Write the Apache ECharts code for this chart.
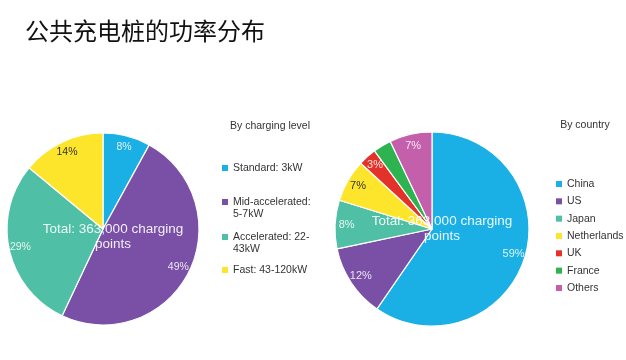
<!DOCTYPE html>
<html><head><meta charset="utf-8">
<script src="https://cdn.jsdelivr.net/npm/echarts@6/dist/echarts.min.js"></script>
<style>html,body{margin:0;padding:0;background:#fff}#c{width:626px;height:360px}</style>
</head><body><div id="c"></div>
<script>
// ---- data ----
const titleText = '公共充电桩的功率分布';
const totalText = 'Total: 363,000 charging\npoints';
const levelHeader = 'By charging level';
const countryHeader = 'By country';
const levelNames = ['Standard: 3kW', 'Mid-accelerated: 5-7kW', 'Accelerated: 22-43kW', 'Fast: 43-120kW'];
const levelValues = [8, 49, 29, 14];
const countryNames = ['China', 'US', 'Japan', 'Netherlands', 'UK', 'France', 'Others'];
const countryValues = [59, 12, 8, 7, 3, 3, 7];

// ---- styles ----
const FONT = '"Liberation Sans", Arial, sans-serif';
const LIGHT = 'rgba(255,255,255,0.85)';
const DARK = '#333';
const levelColors = ['#1aafe5', '#7a4fa6', '#4fbfa6', '#fde52c'];
const levelLabelColors = [LIGHT, LIGHT, LIGHT, DARK];
const countryColors = ['#1aafe5', '#7a4fa6', '#4fbfa6', '#fde52c', '#e4322b', '#2db34f', '#c35fab'];
const countryLabelColors = [LIGHT, LIGHT, LIGHT, DARK, LIGHT, LIGHT, LIGHT];
const levelLegendMarkerY = [168, 202, 237, 270];
const levelWrap = {
  'Mid-accelerated: 5-7kW': '\nMid-accelerated:\n5-7kW',
  'Accelerated: 22-43kW': '\nAccelerated: 22-\n43kW'
};

function pies(names, values, colors, labelColors, center, r, labelSize) {
  const main = {
    type: 'pie', center: center, radius: r, startAngle: 90, clockwise: true, silent: true,
    itemStyle: { borderColor: '#fff', borderWidth: 1.2 },
    label: { show: false }, labelLine: { show: false }, emphasis: { disabled: true },
    data: names.map((n, i) => ({ name: n, value: values[i], itemStyle: { color: colors[i] } }))
  };
  const overlay = {
    type: 'pie', center: center, radius: [r * 0.7, r], startAngle: 90, clockwise: true, silent: true,
    itemStyle: { borderWidth: 0 }, labelLine: { show: false }, emphasis: { disabled: true },
    label: { show: true, position: 'inside', formatter: '{c}%', fontSize: labelSize, fontFamily: FONT },
    data: names.map((n, i) => ({ name: n, value: values[i],
      itemStyle: { color: 'rgba(0,0,0,0)' }, label: { color: labelColors[i] } }))
  };
  return [main, overlay];
}

const legends = levelNames.map((n, i) => {
  const wrapped = !!levelWrap[n];
  return {
    data: [n], orient: 'vertical', left: 222,
    top: levelLegendMarkerY[i] - (wrapped ? 18 : 6),
    padding: 0, icon: 'rect', itemWidth: 6, itemHeight: 6, selectedMode: false,
    itemStyle: { borderWidth: 0 },
    formatter: (name) => levelWrap[name] || name,
    textStyle: { fontSize: 10.5, color: DARK, fontFamily: FONT, lineHeight: 12 }
  };
});
legends.push({
  data: countryNames, orient: 'vertical', left: 556, top: 178, padding: 0,
  icon: 'rect', itemWidth: 6, itemHeight: 6, itemGap: 5.33, selectedMode: false,
  itemStyle: { borderWidth: 0 },
  textStyle: { fontSize: 10.5, color: DARK, fontFamily: FONT, lineHeight: 12 }
});

const chart = echarts.init(document.getElementById('c'), null, { renderer: 'canvas' });
chart.setOption({
  backgroundColor: '#fff',
  animation: false,
  legend: legends,
  series: [].concat(
    pies(levelNames, levelValues, levelColors, levelLabelColors, [103, 229], 96, 10.5),
    pies(countryNames, countryValues, countryColors, countryLabelColors, [432, 229], 97, 11)
  ),
  graphic: [
    { type: 'text', x: 25, y: 31, silent: true,
      style: { text: titleText, fontSize: 24, fontFamily: '"Noto Sans CJK SC", sans-serif', fill: '#111', align: 'left', verticalAlign: 'middle' } },
    { type: 'text', x: 270, y: 126, silent: true,
      style: { text: levelHeader, fontSize: 10.5, fontFamily: FONT, fill: DARK, align: 'center', verticalAlign: 'middle' } },
    { type: 'text', x: 585, y: 125, silent: true,
      style: { text: countryHeader, fontSize: 10.5, fontFamily: FONT, fill: DARK, align: 'center', verticalAlign: 'middle' } },
    { type: 'text', x: 113, y: 237, silent: true, z: 100,
      style: { text: totalText, fontSize: 13.5, lineHeight: 15, fontFamily: FONT, fill: 'rgba(255,255,255,0.9)', align: 'center', verticalAlign: 'middle' } },
    { type: 'text', x: 442, y: 229, silent: true, z: 100,
      style: { text: totalText, fontSize: 13.5, lineHeight: 15, fontFamily: FONT, fill: 'rgba(255,255,255,0.9)', align: 'center', verticalAlign: 'middle' } }
  ]
});
</script>
</body></html>
